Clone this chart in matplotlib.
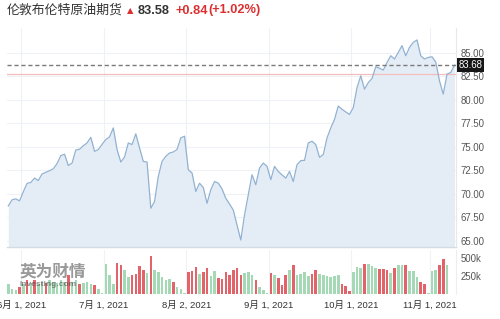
import matplotlib
matplotlib.use('Agg')
import matplotlib.pyplot as plt
import matplotlib.transforms as mtransforms
import numpy as np
import pandas as pd

plt.rcParams['font.family'] = ['Liberation Sans', 'Noto Sans CJK SC']

# ---------------- data ----------------
title_name = "伦敦布伦特原油期货"
last_price = 83.58
change = 0.84
change_pct = 1.02
marker_price = 83.68
prev_close = 82.74

dates = pd.bdate_range('2021-05-26', periods=120)

prices = [
    68.7, 69.35, 69.45, 69.24, 70.2, 71.1, 71.2, 71.66, 71.4, 72.1,
    72.27, 72.45, 72.65, 73.2, 74.05, 74.2, 73.0, 73.26, 74.65, 74.73,
    75.1, 75.4, 76.0, 74.5, 74.7, 75.25, 75.76, 76.04, 77.0, 74.7,
    73.37, 73.9, 75.4, 75.23, 76.37, 74.87, 73.44, 73.37, 68.45, 69.16,
    71.84, 73.44, 73.98, 74.33, 74.44, 74.7, 75.94, 76.12, 72.56, 72.2,
    70.24, 71.12, 70.66, 68.98, 70.42, 71.3, 71.12, 70.5, 69.52, 68.9,
    68.27, 66.67, 65.07, 67.74, 69.88, 72.02, 70.95, 72.73, 73.26, 72.91,
    71.49, 72.91, 72.37, 72.0, 71.66, 72.37, 71.3, 73.09, 73.52, 73.55,
    75.4, 75.58, 75.23, 73.87, 74.16, 75.94, 77.0, 77.9, 79.33, 78.98,
    78.7, 78.44, 79.15, 81.29, 82.54, 81.12, 81.82, 82.25, 83.5, 83.36,
    83.15, 83.96, 84.68, 84.33, 85.03, 85.75, 84.68, 85.57, 86.1, 86.36,
    84.68, 84.33, 84.5, 84.57, 84.0, 82.0, 80.6, 82.72, 82.9, 83.68,
]

volumes_k = [
    128, 71, 50, 95, 128, 199, 156, 185, 142, 170,
    156, 185, 170, 156, 199, 170, 256, 170, 185, 142,
    156, 166, 142, 118, 57, 10, 426, 260, 142, 436,
    402, 331, 237, 270, 284, 388, 331, 294, 530, 327,
    312, 241, 189, 213, 166, 95, 71, 10, 308, 317,
    379, 284, 308, 365, 246, 322, 223, 213, 308, 260,
    331, 365, 260, 294, 308, 256, 185, 99, 53, 10,
    298, 266, 217, 124, 270, 341, 398, 270, 284, 308,
    246, 280, 327, 280, 260, 246, 241, 246, 256, 142,
    104, 33, 308, 379, 365, 426, 422, 388, 365, 351,
    351, 331, 294, 365, 398, 402, 398, 317, 317, 231,
    160, 128, 10, 317, 331, 412, 497, 402,
]

vol_up = [
    1, 1, 1, 0, 1, 0, 1, 0, 1, 1,
    0, 1, 1, 1, 1, 1, 0, 1, 1, 0,
    1, 1, 1, 0, 1, 1, 1, 1, 1, 0,
    0, 1, 1, 0, 0, 0, 0, 1, 0, 1,
    1, 1, 1, 1, 0, 1, 1, 1, 0, 0,
    0, 1, 0, 0, 1, 1, 0, 0, 0, 0,
    0, 0, 0, 1, 1, 1, 0, 1, 1, 1,
    0, 1, 0, 0, 0, 1, 0, 1, 1, 1,
    1, 0, 0, 1, 1, 1, 1, 1, 1, 0,
    0, 0, 1, 1, 1, 0, 1, 1, 1, 0,
    0, 0, 1, 0, 1, 1, 0, 1, 1, 1,
    0, 0, 1, 1, 1, 0, 0, 1,
]

tick_dates = ['2021-06-01', '2021-07-01', '2021-08-02', '2021-09-01', '2021-10-01', '2021-11-01']
tick_labels = ['6月 1, 2021', '7月 1, 2021', '8月 2, 2021', '9月 1, 2021', '10月 1, 2021', '11月 1, 2021']
price_ticks = [65.0, 67.5, 70.0, 72.5, 75.0, 77.5, 80.0, 82.5, 85.0]
vol_ticks = [250, 500]
vol_tick_labels = ['250k', '500k']

# ---------------- figure ----------------
fig = plt.figure(figsize=(5.0, 3.19), dpi=100)
fig.patch.set_facecolor('white')

ax = fig.add_axes([0.014, 0.2266, 0.898, 0.6856])
axv = fig.add_axes([0.014, 0.0799, 0.898, 0.1364])

x = np.arange(len(prices))
tick_pos = [dates.get_loc(pd.Timestamp(d)) - 0.5 for d in tick_dates]

# price panel
ax.fill_between(x, prices, 60, color='#e4edf6', lw=0, zorder=1)
ax.plot(x, prices, color='#92b2d2', lw=0.9, zorder=3)
ax.axhline(prev_close, color='#f5bcbc', lw=0.9, zorder=2)
ax.axhline(marker_price, color='#7a7a7a', lw=1.0, ls=(0, (3, 2)), zorder=4)

ax.set_xlim(-0.35, 119.4)
ax.set_ylim(64.36, 87.63)
ax.set_yticks(price_ticks)
ax.set_yticklabels([f'{v:.2f}' for v in price_ticks])
ax.yaxis.tick_right()
ax.tick_params(axis='y', length=0, pad=3.5, labelsize=6.9, labelcolor='#555555')
ax.set_xticks(tick_pos)
ax.tick_params(axis='x', length=0, labelbottom=False)
ax.grid(True, color='#eef2f6', lw=0.8, zorder=0)
ax.set_axisbelow(True)
for s in ['top', 'left']:
    ax.spines[s].set_visible(False)
ax.spines['bottom'].set_color('#d3dbe3')
ax.spines['bottom'].set_linewidth(1.0)
ax.spines['right'].set_color('#e8e8e8')
ax.spines['right'].set_linewidth(0.8)

trans = mtransforms.blended_transform_factory(ax.transAxes, ax.transData)
ax.text(1.006, marker_price, f'{marker_price:.2f}', transform=trans, ha='left', va='center',
        color='white', fontsize=6.9, zorder=10, clip_on=False,
        bbox=dict(boxstyle='square,pad=0.18', fc='#161616', ec='none'))

# volume panel
vx = np.arange(len(volumes_k))
vcolors = ['#a5d8b5' if u else '#e2646a' for u in vol_up]
axv.bar(vx, volumes_k, width=0.68, color=vcolors, lw=0, zorder=2)
axv.set_xlim(-0.35, 119.4)
axv.set_ylim(0, 618)
axv.set_yticks(vol_ticks)
axv.set_yticklabels(vol_tick_labels)
axv.yaxis.tick_right()
axv.tick_params(axis='y', length=0, pad=3.5, labelsize=6.9, labelcolor='#555555')
axv.set_xticks(tick_pos)
axv.set_xticklabels(tick_labels)
axv.tick_params(axis='x', length=0, pad=5, labelsize=6.8, labelcolor='#333333')
axv.grid(True, axis='x', color='#f0f3f6', lw=0.8, zorder=0)
axv.set_axisbelow(True)
for s in ['top', 'left', 'bottom']:
    axv.spines[s].set_visible(False)
axv.spines['right'].set_color('#eeeeee')
axv.spines['right'].set_linewidth(0.8)

# watermark
fig.text(20 / 500, 1 - 271 / 319, '英为财情', fontsize=12, fontweight='bold', color='#555555',
         alpha=0.6, family=['Noto Sans CJK SC'], va='center', ha='left', zorder=20)
fig.text(20 / 500, 1 - 284 / 319, 'Investing.com', fontsize=6.0, fontweight='bold', color='#444444',
         alpha=0.6, va='center', ha='left', zorder=20)

# header
ty = 1 - 10.5 / 319
fig.text(7 / 500, ty, title_name, fontsize=9.3, color='#333333', family=['Noto Sans CJK SC'],
         va='center', ha='left')
fig.text(127 / 500, ty, '▲', fontsize=6, color='#dd2f2f', family=['DejaVu Sans'],
         va='center', ha='left')
fig.text(138 / 500, ty, f'{last_price:.2f}', fontsize=9.2, fontweight='bold', color='#333333',
         va='center', ha='left')
fig.text(175 / 500, ty, f'+{change:.2f}', fontsize=9.2, fontweight='bold', color='#dd2f2f',
         va='center', ha='left')
fig.text(208 / 500, ty, f'(+{change_pct:.2f}%)', fontsize=9.2, fontweight='bold', color='#dd2f2f',
         va='center', ha='left')

fig.savefig('out.png', dpi=100, facecolor='white')
